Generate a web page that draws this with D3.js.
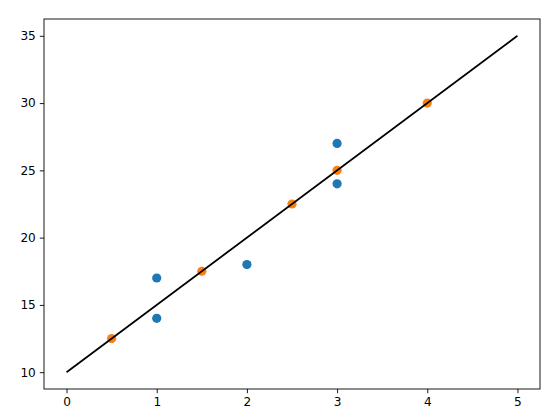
<html>
<head>
<meta charset="utf-8">
<script src="https://d3js.org/d3.v7.min.js"></script>
<style>
  body { margin: 0; background: #fff; }
  text { font-family: "DejaVu Sans", sans-serif; }
</style>
</head>
<body>
<svg id="chart" width="558" height="418"></svg>
<script>
// data
var blueX = [1, 1, 2, 3, 3];
var blueY = [17, 14, 18, 27, 24];
var orangeX = [0.5, 1.5, 2.5, 3, 4];
var orangeY = [12.5, 17.5, 22.5, 25, 30];
var lineX = [0, 5];
var lineY = [10, 35];
var xTicks = [0, 1, 2, 3, 4, 5];
var yTicks = [10, 15, 20, 25, 30, 35];

var plotLeft = 44, plotRight = 540, plotTop = 19, plotBottom = 389;
var svg = d3.select("#chart");

var x = d3.scaleLinear().domain([-0.25, 5.25]).range([plotLeft, plotRight]);
var y = d3.scaleLinear().domain([8.75, 36.25]).range([plotBottom, plotTop]);

// blue points
svg.append("g").selectAll("circle")
  .data(d3.zip(blueX, blueY))
  .enter().append("circle")
  .attr("cx", function(d){ return x(d[0]); })
  .attr("cy", function(d){ return y(d[1]); })
  .attr("r", 4.6)
  .attr("fill", "#1f77b4");

// orange points
svg.append("g").selectAll("circle")
  .data(d3.zip(orangeX, orangeY))
  .enter().append("circle")
  .attr("cx", function(d){ return x(d[0]); })
  .attr("cy", function(d){ return y(d[1]); })
  .attr("r", 4.6)
  .attr("fill", "#ff7f0e");

// fitted line
var line = d3.line()
  .x(function(d){ return x(d[0]); })
  .y(function(d){ return y(d[1]); });
svg.append("path")
  .datum(d3.zip(lineX, lineY))
  .attr("d", line)
  .attr("fill", "none")
  .attr("stroke", "#000")
  .attr("stroke-width", 1.8);

// axes
var xAxis = svg.append("g")
  .attr("transform", "translate(0," + plotBottom + ")")
  .call(d3.axisBottom(x).tickValues(xTicks).tickFormat(d3.format("d"))
    .tickSize(4.2).tickSizeOuter(0).tickPadding(4));
var yAxis = svg.append("g")
  .attr("transform", "translate(" + plotLeft + ",0)")
  .call(d3.axisLeft(y).tickValues(yTicks).tickFormat(d3.format("d"))
    .tickSize(4.2).tickSizeOuter(0).tickPadding(4));

[xAxis, yAxis].forEach(function(a){
  a.select(".domain").remove();
  a.selectAll("line").attr("stroke", "#000").attr("stroke-width", 0.9);
  a.selectAll("text").attr("font-family", "DejaVu Sans").attr("font-size", 12.1).attr("fill", "#000");
});

// frame
svg.append("rect")
  .attr("x", plotLeft).attr("y", plotTop)
  .attr("width", plotRight - plotLeft).attr("height", plotBottom - plotTop)
  .attr("fill", "none")
  .attr("stroke", "#000")
  .attr("stroke-width", 0.9);
</script>
</body>
</html>
